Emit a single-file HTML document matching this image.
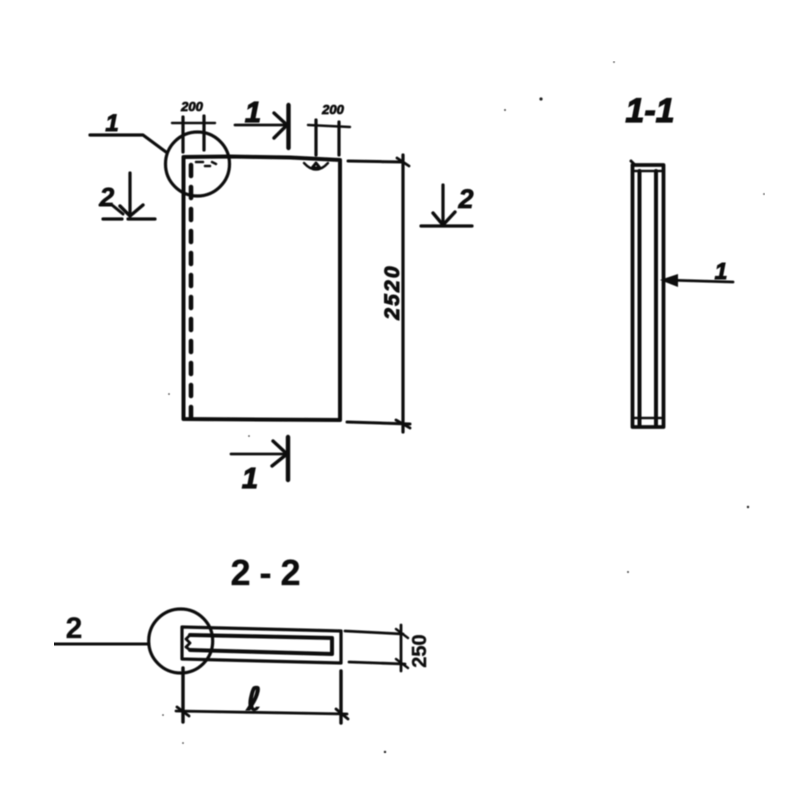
<!DOCTYPE html>
<html><head><meta charset="utf-8"><style>
html,body{margin:0;padding:0;background:#fff;width:800px;height:800px;overflow:hidden}
svg{display:block}
text{font-family:"Liberation Sans",sans-serif;font-weight:bold;fill:#111;stroke:#111}
.l{fill:none;stroke:#111;stroke-linecap:round;stroke-linejoin:round}
</style></head><body>
<svg width="800" height="800" viewBox="0 0 800 800" xmlns="http://www.w3.org/2000/svg">
<defs><filter id="b" x="0" y="0" width="100%" height="100%"><feGaussianBlur stdDeviation="0.6"/></filter></defs>
<rect width="800" height="800" fill="#fff"/>
<g filter="url(#b)">
<!-- main view -->
<g class="l">
<path d="M183.500 157L230 156.500L290 157.500L340 160V420L183.500 419Z" stroke-width="4"/>
<path d="M191 165V418" stroke-width="4.600" stroke-dasharray="11 11"/>
<circle cx="197.500" cy="164" r="32" stroke-width="3.200"/>
<path d="M90 135H143L166 152" stroke-width="3.200"/>
<path d="M348 161L403 162M347 422L410 424" stroke-width="3"/>
<path d="M403 155V432" stroke-width="3.200"/>
<path d="M397 158L409 166M396 420L410 428" stroke-width="2.800"/>
<!-- dim 200 left -->
<path d="M172 123H215" stroke-width="2.400"/>
<path d="M183 117V152M204 116V150" stroke-width="3.200"/>
<!-- dim 200 right -->
<path d="M308 125L350 127" stroke-width="2.400"/>
<path d="M316 120V155M339 122V155" stroke-width="3.200"/>
<!-- weld marks -->
<path d="M304 163Q316 176 328 163" stroke-width="2.400"/>
<path d="M312 168L316 163L320 168Z" stroke-width="3"/>
<path d="M196 162H203M205 166L210 166M212 162L216 164" stroke-width="2.500"/>
<!-- section 1 top -->
<path d="M235 125L287 125" stroke-width="2.800"/>
<path d="M288.500 105V148" stroke-width="4.400"/>
<path d="M274 113L287 125L274 138" stroke-width="3.400"/>
<!-- section 2 left -->
<path d="M130 173V216" stroke-width="3.200"/>
<path d="M120 206L130 216L143 205" stroke-width="3.400"/>
<path d="M103 219H122M128 219H155" stroke-width="3.200"/>
<path d="M100 205H112L123 214" stroke-width="3"/>
<!-- section 2 right -->
<path d="M443 185V225" stroke-width="3.200"/>
<path d="M433 213L443 225L455 212" stroke-width="3.400"/>
<path d="M421 226H472" stroke-width="3.200"/>
<!-- section 1 bottom -->
<path d="M231 454H287" stroke-width="2.800"/>
<path d="M288 437V480" stroke-width="4.400"/>
<path d="M273 441L287 454L272 466" stroke-width="3.400"/>
</g>
<text x="112" y="131" font-size="24" font-style="italic" text-anchor="middle" stroke-width="1">1</text>
<text x="253" y="122" font-size="29" font-style="italic" text-anchor="middle" stroke-width="1.200">1</text>
<text x="250" y="488" font-size="29" font-style="italic" text-anchor="middle" stroke-width="1.200">1</text>
<text x="107" y="206" font-size="26" font-style="italic" text-anchor="middle" stroke-width="0.800">2</text>
<text x="466" y="208" font-size="27" font-style="italic" text-anchor="middle" stroke-width="0.800">2</text>
<text x="192" y="111" font-size="13" font-style="italic" text-anchor="middle" stroke-width="0.800">200</text>
<text x="333" y="114" font-size="13" font-style="italic" text-anchor="middle" stroke-width="0.800">200</text>
<text transform="translate(399 292) rotate(-90)" font-size="21" font-style="italic" text-anchor="middle" stroke-width="1" letter-spacing="2.200">2520</text>
<!-- section 1-1 -->
<text x="650" y="122" font-size="34" font-style="italic" text-anchor="middle" stroke-width="1.200">1-1</text>
<g class="l">
<rect x="632.500" y="165" width="31" height="262" stroke-width="3.800"/>
<path d="M639.500 171V426M656 171V426" stroke-width="4"/>
<path d="M633 171H663M633 418H663" stroke-width="2.500"/>
<path d="M665 280L733 282" stroke-width="2.800"/>
<path d="M631 161L635 165" stroke-width="3"/>
</g>
<path d="M660 280L678 274V287Z" fill="#111"/>
<text x="721" y="279" font-size="23" font-style="italic" text-anchor="middle" stroke-width="1">1</text>
<!-- section 2-2 -->
<text x="270" y="585" font-size="36" text-anchor="middle" letter-spacing="9" stroke-width="0.300">2-2</text>
<g class="l">
<circle cx="180.700" cy="641" r="32" stroke-width="3.200"/>
<path d="M54 644H149" stroke-width="3"/>
<path d="M182 627L341 631V663L182 659Z" stroke-width="3.200"/>
<path d="M190 635L332 638V654L190 650" stroke-width="4"/>
<path d="M190 635L186 639L190 643L186 647L190 650" stroke-width="2.800"/>
<path d="M345 631L403 634M349 662L405 664" stroke-width="2.800"/>
<path d="M401 625V671" stroke-width="2.800"/>
<path d="M396 629L408 638M396 659L408 668" stroke-width="2.400"/>
<path d="M183 668V722M341 671V723" stroke-width="3.400"/>
<path d="M176 711L347 714" stroke-width="2.800"/>
<path d="M177 707L189 716M336 709L348 719" stroke-width="2.800"/>
</g>
<text x="74" y="638" font-size="30" text-anchor="middle" stroke-width="0.300">2</text>
<text transform="translate(426 651) rotate(-90)" font-size="20" text-anchor="middle" stroke-width="0.400">250</text>
<text x="254" y="710" font-size="32" font-style="italic" text-anchor="middle" stroke-width="1" style="font-family:'DejaVu Sans',sans-serif">ℓ</text>
<!-- specks -->
<g fill="#222">
<circle cx="541" cy="99" r="1.600"/><circle cx="505" cy="110" r="0.900"/><circle cx="614" cy="62" r="0.800"/>
<circle cx="764" cy="194" r="0.800"/><circle cx="748" cy="507" r="1.200"/><circle cx="628" cy="572" r="0.900"/>
<circle cx="385" cy="752" r="1.200"/><circle cx="183" cy="743" r="0.800"/><circle cx="163" cy="715" r="0.800"/>
<circle cx="169" cy="394" r="0.800"/><circle cx="249" cy="436" r="0.800"/>
</g>
</g>
</svg>
</body></html>
